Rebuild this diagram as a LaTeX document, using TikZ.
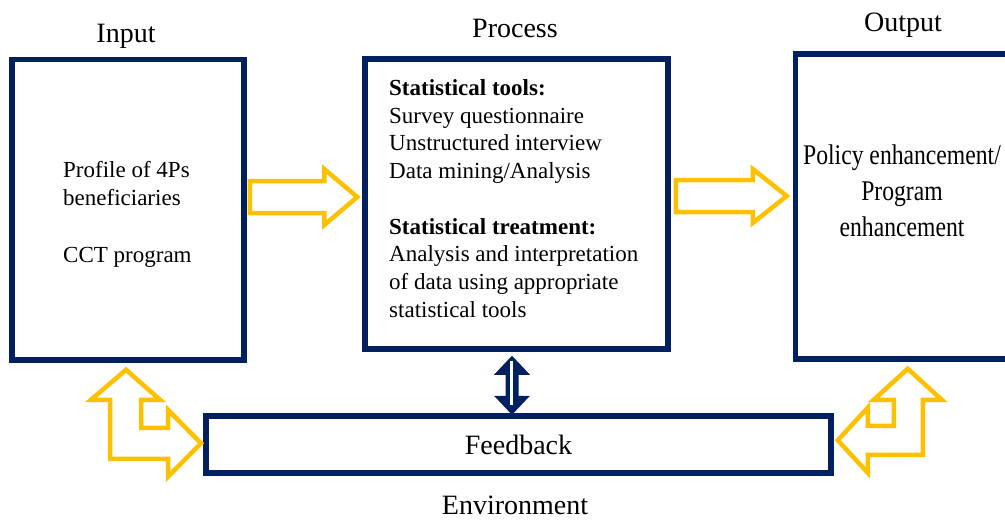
\documentclass[tikz,border=0pt]{standalone}
\usepackage{fontspec}
\setmainfont{Liberation Serif}
\newfontfamily\narrowserif[FakeStretch=0.83]{Liberation Serif}
\usepackage{tikz}
\usetikzlibrary{calc}
\definecolor{boxblue}{RGB}{0,32,96}
\definecolor{arrowgold}{RGB}{255,192,0}

\begin{document}
\begin{tikzpicture}[x=1pt,y=-1pt,
        box/.style={draw=boxblue,line width=5.5pt,rectangle,inner sep=0pt},
        heading/.style={font=\fontsize{28}{32}\selectfont,anchor=base,inner sep=0pt},
        body/.style={font=\fontsize{23}{27.75}\selectfont,align=left,anchor=north west,inner sep=0pt},
        hollow/.style={draw=arrowgold,line width=4.5pt,line join=miter}]
        \clip (0,0) rectangle (1005,520);
        \node[box,minimum width=232,minimum height=300.5] (input) at (128,209.75) {};
        \node[box,minimum width=303,minimum height=290] (process) at (516.5,204) {};
        \node[box,minimum width=214.5,minimum height=305] (output) at (902.75,206.5) {};
        \node[box,minimum width=625,minimum height=57,font=\fontsize{28}{32}\selectfont] (feedback) at (518.5,444.5) {Feedback};
        \node[heading] (inlabel) at (126,42) {Input};
        \node[heading] (proclabel) at (515,37) {Process};
        \node[heading] (outlabel) at (903,31) {Output};
        \node[heading] (envlabel) at (515,514) {Environment};
        \node[body] (intext) at (63,161.3) {Profile of 4Ps\\beneficiaries\\[29pt]CCT program};
        \node[body] (proctext) at (389,79.3) {\textbf{Statistical tools:}\\Survey questionnaire\\Unstructured interview\\Data mining/Analysis\\[27.75pt]\textbf{Statistical treatment:}\\Analysis and interpretation\\of data using appropriate\\statistical tools};
        \node[font=\narrowserif\fontsize{28.5}{36}\selectfont,align=center,anchor=north,inner sep=0pt] (outtext) at (902,144.5) {Policy enhancement/\\Program\\enhancement};
        \coordinate (ip) at (input.east |- 0,197);
        \coordinate (pi) at (process.west |- 0,197);
        \coordinate (po) at (process.east |- 0,196);
        \coordinate (op) at (output.west |- 0,196);
        \draw[hollow] ($(ip)+(3,-16)$) -- ($(pi)+(-38,-16)$) -- ++(0,-12) -- ($(pi)+(-5,0)$) -- ($(pi)+(-38,28)$) -- ++(0,-12) -- ($(ip)+(3,16)$) -- cycle;
        \draw[hollow] ($(po)+(5,-16)$) -- ($(op)+(-40,-16)$) -- ++(0,-11) -- ($(op)+(-6,0)$) -- ($(op)+(-40,27)$) -- ++(0,-11) -- ($(po)+(5,16)$) -- cycle;
        \draw[hollow] ($(input.south)+(-2,7)$) -- ++(34,30) -- ++(-19,0) -- ++(0,28) -- ++(27,0) -- ++(0,-18) -- ++(33,33.5) -- ++(-33,33.5) -- ++(0,-18) -- ++(-58,0) -- ++(0,-59) -- ++(-19,0) -- cycle;
        \draw[hollow] ($(output.south)+(5,7)$) -- ++(34,31) -- ++(-19,0) -- ++(0,55) -- ++(-55,0) -- ++(0,18) -- ++(-30,-32.5) -- ++(30,-32.5) -- ++(0,18) -- ++(26,0) -- ++(0,-26) -- ++(-20,0) -- cycle;
        \fill[boxblue] ($(process.south)+(-4.5,4)$) -- ++(18,19) -- ++(-11.5,0) -- ++(0,21) -- ++(11.5,0) -- ++(-18,19) -- ++(-18,-19) -- ++(11.5,0) -- ++(0,-21) -- ++(-11.5,0) -- cycle;
        \draw[white,line width=2.5pt] ($(process.south)+(-5,9)$) -- ($(feedback.north)+(-7,-8)$);
    \end{tikzpicture}
\end{document}
